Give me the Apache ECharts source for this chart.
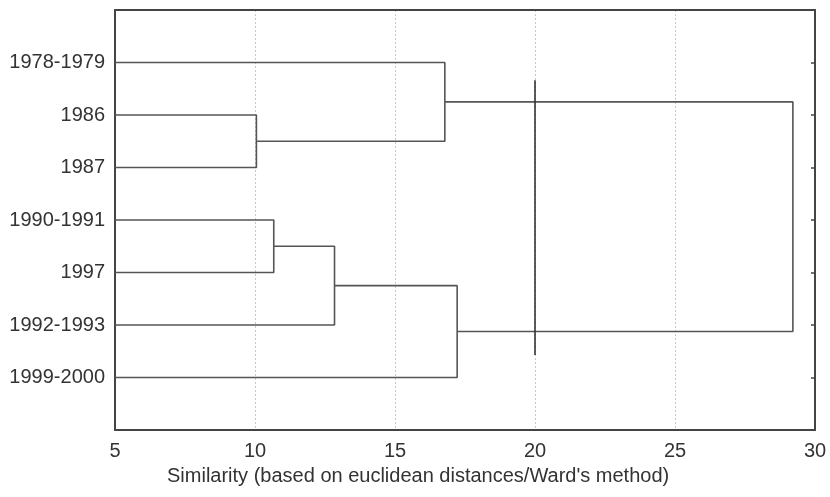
<!DOCTYPE html>
<html><head><meta charset="utf-8">
<script src="https://cdn.jsdelivr.net/npm/echarts@6/dist/echarts.min.js"></script>
<style>html,body{margin:0;padding:0;background:#fff}#c{width:830px;height:497px}</style>
</head><body><div id="c"></div>
<script>
// Leaves, top to bottom
const leafLabels = ['1978-1979','1986','1987','1990-1991','1997','1992-1993','1999-2000'];
// Merges: [child A, child B, linkage distance]; ids 0..6 are leaves, 7.. are new clusters in order
const mergeA = [1, 0, 3, 9, 10, 8];
const mergeB = [2, 7, 4, 5, 6, 11];
const mergeHeight = [10.05, 16.78, 10.67, 12.84, 17.22, 29.21];
// Cut line
const cutLevel = 20;
const cutSpan = [1.34, 6.57];
const xTicks = [5, 10, 15, 20, 25, 30];
const axisTitle = "Similarity (based on euclidean distances/Ward's method)";

const xMin = xTicks[0], xMax = xTicks[xTicks.length - 1];
const nodes = leafLabels.map((l, i) => ({x: xMin, y: i + 1}));
const series = [];
mergeHeight.forEach((h, k) => {
  const a = nodes[mergeA[k]], b = nodes[mergeB[k]];
  series.push({
    type: 'line', symbol: 'none', silent: true, animation: false,
    lineStyle: {color: '#555', width: 1.6},
    data: [[a.x, a.y], [h, a.y], [h, b.y], [b.x, b.y]]
  });
  nodes.push({x: h, y: (a.y + b.y) / 2});
});
series.push({
  type: 'line', symbol: 'none', silent: true, animation: false,
  lineStyle: {color: '#333', width: 1.6},
  data: [[cutLevel, cutSpan[0]], [cutLevel, cutSpan[1]]]
});

const font = 'Liberation Sans, Arial, sans-serif';
const frameLine = {show: true, onZero: false, lineStyle: {color: '#444', width: 2}};
const yMax = leafLabels.length + 1;
const chart = echarts.init(document.getElementById('c'), null, {renderer: 'canvas'});
chart.setOption({
  backgroundColor: '#fff',
  animation: false,
  title: {text: axisTitle, left: 162, top: 461,
    textStyle: {color: '#333', fontSize: 20, fontWeight: 'normal', fontFamily: font}},
  grid: {left: 115, right: 15, top: 10, bottom: 67},
  xAxis: [{
    type: 'value', min: xMin, max: xMax, interval: 5, position: 'bottom',
    axisLine: frameLine, axisTick: {show: false},
    splitLine: {show: true, lineStyle: {color: '#c8c8c8', type: [2, 2], width: 1}},
    axisLabel: {color: '#333', fontSize: 20, fontFamily: font, margin: 11,
      formatter: v => xTicks.includes(v) ? String(v) : ''}
  }, {
    type: 'value', min: xMin, max: xMax, interval: 5, position: 'top',
    axisLine: frameLine, axisTick: {show: false}, splitLine: {show: false}, axisLabel: {show: false}
  }],
  yAxis: [{
    type: 'value', min: 0, max: yMax, interval: 1, inverse: true, position: 'left',
    axisLine: frameLine, axisTick: {show: false}, splitLine: {show: false},
    axisLabel: {color: '#333', fontSize: 20, fontFamily: font, margin: 10,
      formatter: v => leafLabels[v - 1] || ''}
  }, {
    type: 'value', min: 0, max: yMax, interval: 1, inverse: true, position: 'right',
    axisLine: frameLine, splitLine: {show: false}, axisLabel: {show: false},
    axisTick: {show: true, inside: true, length: 4, lineStyle: {color: '#444', width: 1.5}}
  }],
  series: series
});
</script></body></html>
